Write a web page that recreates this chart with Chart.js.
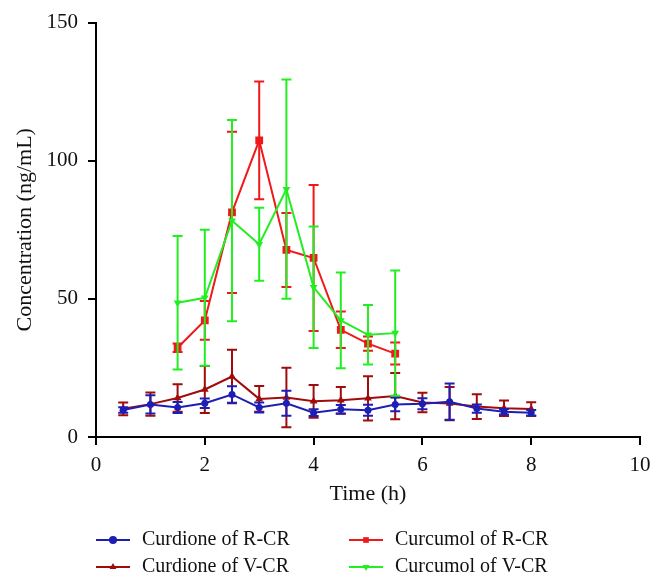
<!DOCTYPE html>
<html>
<head>
<meta charset="utf-8">
<script src="https://cdn.jsdelivr.net/npm/chart.js@4.4.0/dist/chart.umd.min.js"></script>
<style>
  html, body { margin: 0; padding: 0; background: #fff; }
  #grafico { display: block; }
</style>
</head>
<body>
<canvas id="grafico" width="662" height="587"></canvas>
<script>
// Dados
const tempoCurdiona = [0.5, 1, 1.5, 2, 2.5, 3, 3.5, 4, 4.5, 5, 5.5, 6, 6.5, 7, 7.5, 8];
const tempoCurcumol = [1.5, 2, 2.5, 3, 3.5, 4, 4.5, 5, 5.5];

const curdionaR = [9.8, 11.8, 10.7, 12.2, 15.4, 10.7, 12.2, 8.8, 10.0, 9.7, 11.8, 12.0, 12.8, 10.3, 9.1, 8.8];
const curdionaRErro = [1, 3.3, 2, 1.7, 3, 1.8, 4.5, 1.2, 1.6, 2, 2.5, 2, 6.6, 1.5, 1, 1];

const curdionaV = [10.2, 11.9, 14.1, 17.2, 21.9, 13.8, 14.3, 12.9, 13.3, 14.0, 14.8, 12.5, 12.1, 11.0, 10.4, 10.1];
const curdionaVErro = [2.3, 4.2, 5, 8.5, 9.7, 4.7, 10.8, 5.9, 4.8, 8, 8.4, 3.5, 6, 4.5, 2.8, 2.5];

const curcumolR = [32.3, 42.2, 81.3, 107.4, 67.7, 64.8, 38.8, 33.8, 30.2];
const curcumolRErro = [1.5, 7, 29.2, 21.3, 13.4, 26.4, 6.6, 2.6, 4];

const curcumolV = [48.6, 50.4, 78.3, 69.8, 89.7, 54.2, 42.2, 37.0, 37.6];
const curcumolVErro = [24.2, 24.6, 36.4, 13.2, 39.7, 22, 17.3, 10.8, 22.7];

const rotulos = ['Curdione of R-CR', 'Curdione of V-CR', 'Curcumol of R-CR', 'Curcumol of V-CR'];
const cores = ['#1e1eb4', '#a00c0c', '#f01818', '#22ee22'];

const fonteSerif = "'Liberation Serif', 'DejaVu Serif', serif";

function pontos(tempos, valores) {
  return tempos.map((t, i) => ({ x: t, y: valores[i] }));
}

// Barras de erro desenhadas logo depois de cada série
const barrasErro = {
  id: 'barrasErro',
  afterDatasetDraw(chart, args) {
    const ds = chart.data.datasets[args.index];
    if (!ds.erro) return;
    const escalaY = chart.scales.y;
    const ctx = chart.ctx;
    ctx.save();
    ctx.strokeStyle = ds.borderColor;
    ctx.lineWidth = 2;
    args.meta.data.forEach((pt, i) => {
      const v = ds.data[i].y;
      const e = ds.erro[i];
      const yTopo = escalaY.getPixelForValue(v + e);
      const yBase = escalaY.getPixelForValue(v - e);
      ctx.beginPath();
      ctx.moveTo(pt.x, yTopo);
      ctx.lineTo(pt.x, yBase);
      ctx.moveTo(pt.x - 5, yTopo);
      ctx.lineTo(pt.x + 5, yTopo);
      ctx.moveTo(pt.x - 5, yBase);
      ctx.lineTo(pt.x + 5, yBase);
      ctx.stroke();
    });
    ctx.restore();
  }
};

function desenharMarcador(ctx, estilo, x, y, r, rotacao) {
  ctx.beginPath();
  if (estilo === 'circle') {
    ctx.arc(x, y, r, 0, Math.PI * 2);
  } else if (estilo === 'rect') {
    const s = r * Math.SQRT1_2;
    ctx.rect(x - s, y - s, 2 * s, 2 * s);
  } else {
    const dir = rotacao === 180 ? -1 : 1;
    ctx.moveTo(x, y - dir * r);
    ctx.lineTo(x + r * 0.87, y + dir * r * 0.5);
    ctx.lineTo(x - r * 0.87, y + dir * r * 0.5);
    ctx.closePath();
  }
  ctx.fill();
}

// Legenda em duas colunas, como no original
const legenda = {
  id: 'legenda',
  afterDraw(chart) {
    const ctx = chart.ctx;
    const colunas = [96, 349];
    const linhas = [540, 567];
    const ordem = [[0, 2], [1, 3]];
    ctx.save();
    ctx.font = '20px ' + fonteSerif;
    ctx.textBaseline = 'middle';
    ordem.forEach((linha, li) => {
      linha.forEach((idx, ci) => {
        const ds = chart.data.datasets[idx];
        const x = colunas[ci];
        const y = linhas[li];
        ctx.strokeStyle = ds.borderColor;
        ctx.fillStyle = ds.borderColor;
        ctx.lineWidth = 2;
        ctx.beginPath();
        ctx.moveTo(x, y);
        ctx.lineTo(x + 34, y);
        ctx.stroke();
        desenharMarcador(ctx, ds.pointStyle, x + 17, y, 4, ds.pointRotation);
        ctx.fillStyle = '#111';
        ctx.fillText(ds.label, x + 46, y);
      });
    });
    ctx.restore();
  }
};

const eixoComum = {
  grid: { drawOnChartArea: false, drawTicks: true, tickLength: 8, color: '#000', lineWidth: 2 },
  border: { display: true, color: '#000', width: 2 }
};

const ctx = document.getElementById('grafico').getContext('2d');
new Chart(ctx, {
  type: 'line',
  data: {
    datasets: [
      {
        label: rotulos[0], data: pontos(tempoCurdiona, curdionaR), erro: curdionaRErro,
        borderColor: cores[0], backgroundColor: cores[0], pointStyle: 'circle', pointRadius: 3.5, order: 2
      },
      {
        label: rotulos[1], data: pontos(tempoCurdiona, curdionaV), erro: curdionaVErro,
        borderColor: cores[1], backgroundColor: cores[1], pointStyle: 'triangle', pointRadius: 4.5, order: 3
      },
      {
        label: rotulos[2], data: pontos(tempoCurcumol, curcumolR), erro: curcumolRErro,
        borderColor: cores[2], backgroundColor: cores[2], pointStyle: 'rect', pointRadius: 5.5, order: 1
      },
      {
        label: rotulos[3], data: pontos(tempoCurcumol, curcumolV), erro: curcumolVErro,
        borderColor: cores[3], backgroundColor: cores[3], pointStyle: 'triangle', pointRotation: 180, pointRadius: 4.5, order: 0
      }
    ]
  },
  options: {
    responsive: false,
    animation: false,
    layout: { padding: { top: 21, right: 22, bottom: 75, left: 0 } },
    elements: {
      line: { borderWidth: 2, tension: 0, fill: false },
      point: { borderWidth: 0 }
    },
    scales: {
      x: {
        type: 'linear',
        min: 0,
        max: 10,
        ...eixoComum,
        ticks: { stepSize: 2, color: '#111', padding: 8, font: { family: fonteSerif, size: 21 } },
        title: { display: true, text: 'Time (h)', color: '#111', padding: { top: 0, bottom: 5 }, font: { family: fonteSerif, size: 22 } },
        afterFit(escala) { escala.height = 75; }
      },
      y: {
        type: 'linear',
        min: 0,
        max: 150,
        ...eixoComum,
        ticks: { stepSize: 50, color: '#111', padding: 10, font: { family: fonteSerif, size: 21 } },
        title: { display: true, text: 'Concentration (ng/mL)', color: '#111', padding: { top: 12, bottom: 0 }, font: { family: fonteSerif, size: 22 } },
        afterFit(escala) { escala.width = 96; }
      }
    },
    plugins: {
      legend: { display: false },
      tooltip: { enabled: false }
    }
  },
  plugins: [barrasErro, legenda]
});
</script>
</body>
</html>
